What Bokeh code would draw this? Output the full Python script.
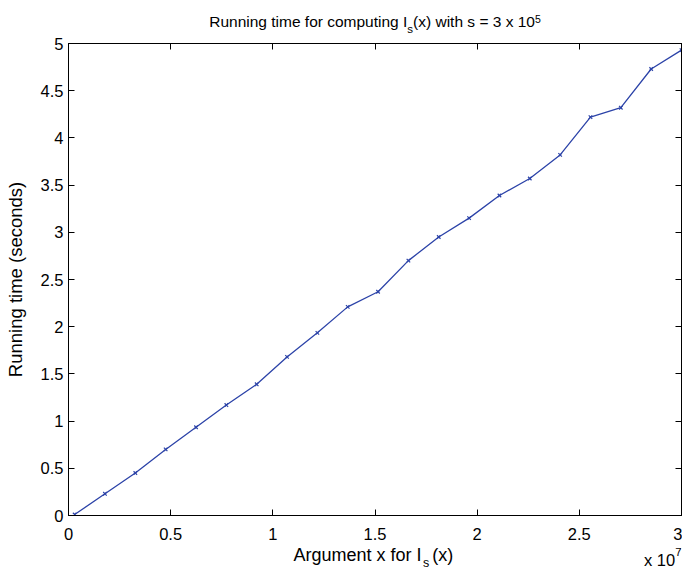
from bokeh.plotting import figure
from bokeh.models import LinearAxis, FixedTicker, Range1d, CustomJSTickFormatter
from bokeh.layouts import column
from bokeh.core.properties import value
from bokeh.embed import file_html
from bokeh.resources import INLINE

# ---------------- data ----------------
x_values = [300000, 1785000, 3270000, 4755000, 6240000, 7725000, 9210000,
            10695000, 12180000, 13665000, 15150000, 16635000, 18120000,
            19605000, 21090000, 22575000, 24060000, 25545000, 27030000,
            28515000, 30000000]
run_times = [0.01, 0.23, 0.45, 0.70, 0.935, 1.17, 1.39, 1.68, 1.935, 2.21,
             2.37, 2.70, 2.95, 3.15, 3.39, 3.57, 3.82, 4.22, 4.32, 4.73, 4.93]

x_ticks = [0, 5000000, 10000000, 15000000, 20000000, 25000000, 30000000]
x_tick_labels = ["0", "0.5", "1", "1.5", "2", "2.5", "3"]
y_ticks = [0, 0.5, 1, 1.5, 2, 2.5, 3, 3.5, 4, 4.5, 5]
y_tick_labels = ["0", "0.5", "1", "1.5", "2", "2.5", "3", "3.5", "4", "4.5", "5"]

title_parts = ["Running time for computing I", "s", "(x) with s = 3 x 10", "5"]
xlabel_parts = ["Argument x for I", "s", "(x)"]
ylabel_text = "Running time (seconds)"
xscale_parts = ["x 10", "7"]

FONT = "Liberation Sans"
LINE_COLOR = "#2c43a8"

# Arial / Liberation Sans advance widths (1/1000 em)
AW = {" ": 278, "(": 333, ")": 333, "=": 584, ".": 278,
      "A": 667, "I": 278, "R": 722,
      "a": 556, "c": 500, "d": 556, "e": 556, "f": 278, "g": 556, "h": 556,
      "i": 222, "m": 833, "n": 556, "o": 556, "p": 556, "r": 333, "s": 500,
      "t": 278, "u": 556, "w": 722, "x": 500}
ASC, DESC = 0.905, 0.212   # Liberation Sans font box


def tw(s, size):
    return sum(AW.get(c, 556) for c in s) * size / 1000.0


W = 682
TOP_H = 34          # title strip
MAIN_H = 512        # plot
BOT_H = 570 - TOP_H - MAIN_H   # x-label strip
MB_L, MB_R, MB_T, MB_B = 68, 1, 9, 31
FRAME_CX = MB_L + (W - MB_L - MB_R) / 2.0


def strip(height, y_top):
    # frames of a column are aligned with the main plot's frame, so the
    # x range is expressed in page pixels of that frame
    f = figure(width=W, height=height, x_range=Range1d(MB_L, W - MB_R),
               y_range=Range1d(y_top + height, y_top),
               output_backend="svg", toolbar_location=None,
               x_axis_location=None, y_axis_location=None,
               min_border_left=MB_L, min_border_right=MB_R,
               min_border_top=0, min_border_bottom=0)
    f.outline_line_color = None
    f.grid.visible = False
    f.background_fill_color = "white"
    f.border_fill_color = "white"
    return f


def put(f, txt, px, baseline, size):
    # centre of the font box sits (ASC-DESC)/2 em above the baseline
    f.text(x=[px], y=[baseline - (ASC - DESC) / 2.0 * size], text=[txt],
           text_font=value(FONT), text_font_size=value(f"{size}px"),
           text_color="black", text_align="left", text_baseline="middle")


# ---------------- title strip ----------------
top = strip(TOP_H, 0)
ts_main, ts_sub, ts_sup = 15.5, 11.5, 10.5
widths = [tw(title_parts[0], ts_main), tw(title_parts[1], ts_sub),
          tw(title_parts[2], ts_main), tw(title_parts[3], ts_sup)]
x0 = FRAME_CX - sum(widths) / 2.0
put(top, title_parts[0], x0, 26.5, ts_main)
x0 += widths[0]
put(top, title_parts[1], x0, 32.5, ts_sub)
x0 += widths[1]
put(top, title_parts[2], x0, 26.5, ts_main)
x0 += widths[2]
put(top, title_parts[3], x0, 22.5, ts_sup)

# ---------------- main plot ----------------
p = figure(width=W, height=MAIN_H, x_range=Range1d(0, 30000000), y_range=Range1d(0, 5),
           output_backend="svg", toolbar_location=None,
           min_border_left=MB_L, min_border_right=MB_R,
           min_border_top=MB_T, min_border_bottom=MB_B)
p.background_fill_color = "white"
p.border_fill_color = "white"
p.outline_line_color = "black"
p.outline_line_alpha = 1.0
p.outline_line_width = 1
p.grid.visible = False


def make_fmt(ticks, labels):
    return CustomJSTickFormatter(args=dict(tvals=ticks, tlabs=labels), code="""
        for (let i = 0; i < tvals.length; i++) {
            if (Math.abs(tvals[i] - tick) <= 1e-6 * Math.max(1, Math.abs(tvals[i]))) return tlabs[i];
        }
        return '';
    """)


def style_axis(ax, ticks, labels, show_labels=True, standoff=5):
    ax.ticker = FixedTicker(ticks=ticks)
    ax.axis_line_color = "black"
    ax.axis_line_width = 1
    ax.major_tick_line_color = "black"
    ax.major_tick_in = 6
    ax.major_tick_out = 0
    ax.minor_tick_line_color = None
    if show_labels:
        ax.formatter = make_fmt(ticks, labels)
        ax.major_label_text_font = FONT
        ax.major_label_text_font_size = "16.5px"
        ax.major_label_text_color = "black"
        ax.major_label_standoff = standoff
    else:
        ax.formatter = make_fmt(ticks, ["" for _ in labels])
        ax.major_label_text_font_size = "0px"
        ax.major_label_standoff = 0


style_axis(p.xaxis[0], x_ticks, x_tick_labels, True, 12)
style_axis(p.yaxis[0], y_ticks, y_tick_labels, True, 5)
p.yaxis[0].axis_label = ylabel_text
p.yaxis[0].axis_label_text_font = FONT
p.yaxis[0].axis_label_text_font_size = "18.5px"
p.yaxis[0].axis_label_text_font_style = "normal"
p.yaxis[0].axis_label_text_color = "black"
p.yaxis[0].axis_label_standoff = 12

top_axis = LinearAxis()
style_axis(top_axis, x_ticks, x_tick_labels, False)
p.add_layout(top_axis, "above")
right_axis = LinearAxis()
style_axis(right_axis, y_ticks, y_tick_labels, False)
p.add_layout(right_axis, "right")

p.line(x_values, run_times, line_color=LINE_COLOR, line_width=1.3)
p.scatter(x_values, run_times, marker="x", size=5, line_color=LINE_COLOR, line_width=1.2)

# ---------------- x-label strip ----------------
bot = strip(BOT_H, TOP_H + MAIN_H)
xs_main, xs_sub = 18, 12.5
xw = [tw(xlabel_parts[0], xs_main), tw(xlabel_parts[1], xs_sub), tw(xlabel_parts[2], xs_main)]
x0 = 293.0
put(bot, xlabel_parts[0], x0, 561, xs_main)
x0 += xw[0] + 1.5
put(bot, xlabel_parts[1], x0, 566.5, xs_sub)
x0 += xw[1] + 3.0
put(bot, xlabel_parts[2], x0, 561, xs_main)

sw = [tw(xscale_parts[0], 16.5), tw(xscale_parts[1], 11.5)]
put(bot, xscale_parts[0], 643.5, 565, 16.5)
put(bot, xscale_parts[1], 643.5 + sw[0], 555, 11.5)

layout = column(top, p, bot, spacing=0)
open("out.html", "w").write(file_html(layout, INLINE))
